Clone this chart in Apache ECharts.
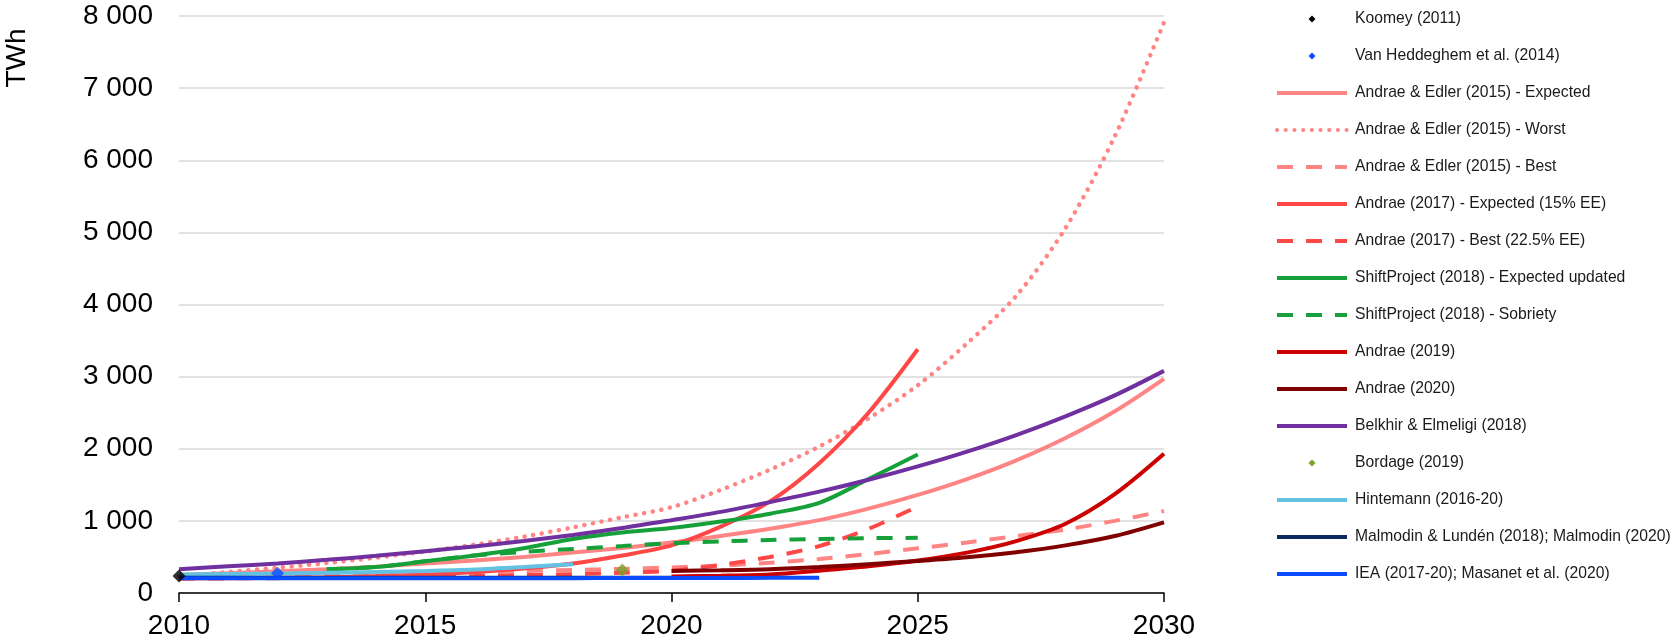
<!DOCTYPE html>
<html>
<head>
<meta charset="utf-8">
<script src="https://cdn.jsdelivr.net/npm/echarts@6/dist/echarts.min.js"></script>
<style>
  html, body { margin: 0; padding: 0; background: #fff; }
  #chart { width: 1674px; height: 642px; }
</style>
</head>
<body>
<div id="chart"></div>
<script>
// years on the x axis, one value per year (null = no data)
var years = [2010, 2011, 2012, 2013, 2014, 2015, 2016, 2017, 2018, 2019, 2020,
             2021, 2022, 2023, 2024, 2025, 2026, 2027, 2028, 2029, 2030];

var aeExpected = [250, 275, 300, 330, 365, 410, 450, 500, 560, 625, 700, 790, 890, 1010, 1170, 1360, 1580, 1840, 2150, 2520, 2970];
var aeWorst    = [230, 290, 350, 415, 490, 575, 670, 780, 910, 1050, 1190, 1430, 1710, 2030, 2420, 2880, 3460, 4120, 5060, 6330, 7910];
var aeBest     = [200, 210, 220, 235, 250, 270, 290, 305, 320, 335, 355, 380, 420, 470, 540, 620, 700, 790, 880, 1000, 1137];
var andrae17Exp  = [200, 205, 210, 220, 235, 255, 290, 340, 410, 520, 660, 920, 1270, 1800, 2500, 3380, null, null, null, null, null];
var andrae17Best = [200, 203, 206, 210, 215, 225, 235, 248, 262, 282, 310, 390, 500, 650, 890, 1200, null, null, null, null, null];
var shiftExp = [null, null, null, 330, 360, 440, 520, 620, 750, 840, 900, 990, 1100, 1250, 1580, 1920, null, null, null, null, null];
var shiftSob = [null, null, null, 330, 360, 440, 520, 570, 610, 650, 690, 715, 735, 750, 760, 765, null, null, null, null, null];
var andrae19 = [null, null, null, null, null, null, null, null, null, null, 230, 240, 258, 310, 370, 450, 560, 720, 960, 1370, 1930];
var andrae20 = [null, null, null, null, null, null, null, null, null, null, 305, 315, 330, 360, 400, 444, 495, 565, 660, 790, 980];
var belkhir  = [330, 370, 410, 460, 515, 580, 645, 720, 805, 900, 1010, 1125, 1260, 1405, 1570, 1755, 1960, 2190, 2450, 2740, 3080];
var hintemann = [255, 262, 270, 280, 292, 305, 325, 360, 400, null, null, null, null, null, null, null, null, null, null, null, null];
var malmodin = [212, 212, 212, 211, 211, 211, 211, 212, 212, 213, 213, null, null, null, null, null, null, null, null, null, null];
var iea      = [204, 204, 203, 203, 203, 203, 204, 205, 206, 207, 208, 209, 210, 212, null, null, null, null, null, null, null];

// single-point estimates
var koomey = [[2010, 236]];
var vanHeddeghem = [[2012, 275]];
var bordage = [[2019, 320]];

var yTicks = [0, 1000, 2000, 3000, 4000, 5000, 6000, 7000, 8000];

function pairs(vals) {
  var out = [];
  years.forEach(function (y, i) {
    if (vals[i] != null) out.push([y, vals[i]]);
  });
  return out;
}

var FONT = '"Liberation Sans", Arial, sans-serif';
var DASH = [16, 13];
var diamondIcon = 'path://M0,0M70,14M35,3.5L38.5,7L35,10.5L31.5,7Z';

function lineSeries(name, vals, color, type) {
  var ls = { color: color, width: 4, type: type || 'solid' };
  if (type === 'dotted') {
    ls.type = [0.1, 8.6];
    ls.cap = 'round';
    ls.width = 4.5;
  }
  return {
    name: name,
    type: 'line',
    data: pairs(vals),
    symbol: 'none',
    smooth: 0.3,
    itemStyle: { color: color },
    lineStyle: ls,
    emphasis: { disabled: true }
  };
}

function pointSeries(name, data, color) {
  return {
    name: name,
    type: 'scatter',
    data: data,
    symbol: 'diamond',
    symbolSize: 13,
    z: 5,
    itemStyle: { color: color }
  };
}

var series = [
  pointSeries('Koomey (2011)', koomey, '#000000'),
  pointSeries('Van Heddeghem et al. (2014)', vanHeddeghem, '#0a4dff'),
  lineSeries('Andrae & Edler (2015) - Expected', aeExpected, '#ff8585'),
  lineSeries('Andrae & Edler (2015) - Worst', aeWorst, '#ff8585', 'dotted'),
  lineSeries('Andrae & Edler (2015) - Best', aeBest, '#ff8585', DASH),
  lineSeries('Andrae (2017) - Expected (15% EE)', andrae17Exp, '#ff4747'),
  lineSeries('Andrae (2017) - Best (22.5% EE)', andrae17Best, '#ff4747', DASH),
  lineSeries('ShiftProject (2018) - Expected updated', shiftExp, '#16a03a'),
  lineSeries('ShiftProject (2018) - Sobriety', shiftSob, '#16a03a', DASH),
  lineSeries('Andrae (2019)', andrae19, '#cc0000'),
  lineSeries('Andrae (2020)', andrae20, '#800000'),
  lineSeries('Belkhir & Elmeligi (2018)', belkhir, '#7030a0'),
  pointSeries('Bordage (2019)', bordage, '#78a22a'),
  lineSeries('Hintemann (2016-20)', hintemann, '#63c2e4'),
  lineSeries('Malmodin & Lundén (2018); Malmodin (2020)', malmodin, '#0b2a62'),
  lineSeries('IEA (2017-20); Masanet et al. (2020)', iea, '#0a4dff')
];

// line entries: hide the legend symbol, keep only the stroke
var legendData = series.map(function (s) {
  return s.type === 'scatter'
    ? { name: s.name, icon: diamondIcon, itemStyle: { opacity: 1 } }
    : { name: s.name };
});

var chart = echarts.init(document.getElementById('chart'));
chart.setOption({
  animation: false,
  backgroundColor: '#ffffff',
  textStyle: { fontFamily: FONT },
  grid: { left: 179, right: 510, top: 16, bottom: 49 },
  legend: {
    orient: 'vertical',
    left: 1275,
    top: 11,
    padding: 0,
    itemWidth: 70,
    itemHeight: 14,
    itemGap: 21,
    data: legendData,
    itemStyle: { opacity: 0 },
    lineStyle: { width: 4 },
    textStyle: { fontFamily: FONT, fontSize: 15.7, color: '#1a1a1a', lineHeight: 16, padding: [0, 0, 0, 3] }
  },
  graphic: [{
    type: 'text',
    x: 17,
    y: 58,
    rotation: Math.PI / 2,
    style: {
      text: 'TWh',
      font: '28px ' + FONT,
      fill: '#000',
      textAlign: 'center',
      textVerticalAlign: 'middle'
    }
  }],
  xAxis: {
    type: 'value',
    min: 2010,
    max: 2030,
    interval: 5,
    splitLine: { show: false },
    axisLine: { lineStyle: { color: '#000', width: 1.5 } },
    axisTick: { length: 9, lineStyle: { color: '#000', width: 1.5 } },
    axisLabel: {
      fontSize: 28,
      color: '#000',
      margin: 19,
      fontFamily: FONT,
      formatter: function (v) { return String(v); }
    }
  },
  yAxis: {
    type: 'value',
    min: yTicks[0],
    max: yTicks[yTicks.length - 1],
    interval: 1000,
    axisLine: { show: false },
    axisTick: { show: false },
    splitLine: { lineStyle: { color: '#d9d9d9', width: 1.5 } },
    axisLabel: {
      fontSize: 28,
      color: '#000',
      margin: 26,
      fontFamily: FONT,
      formatter: function (v) {
        return String(v).replace(/\B(?=(\d{3})+(?!\d))/g, ' ');
      }
    }
  },
  series: series
});
</script>
</body>
</html>
